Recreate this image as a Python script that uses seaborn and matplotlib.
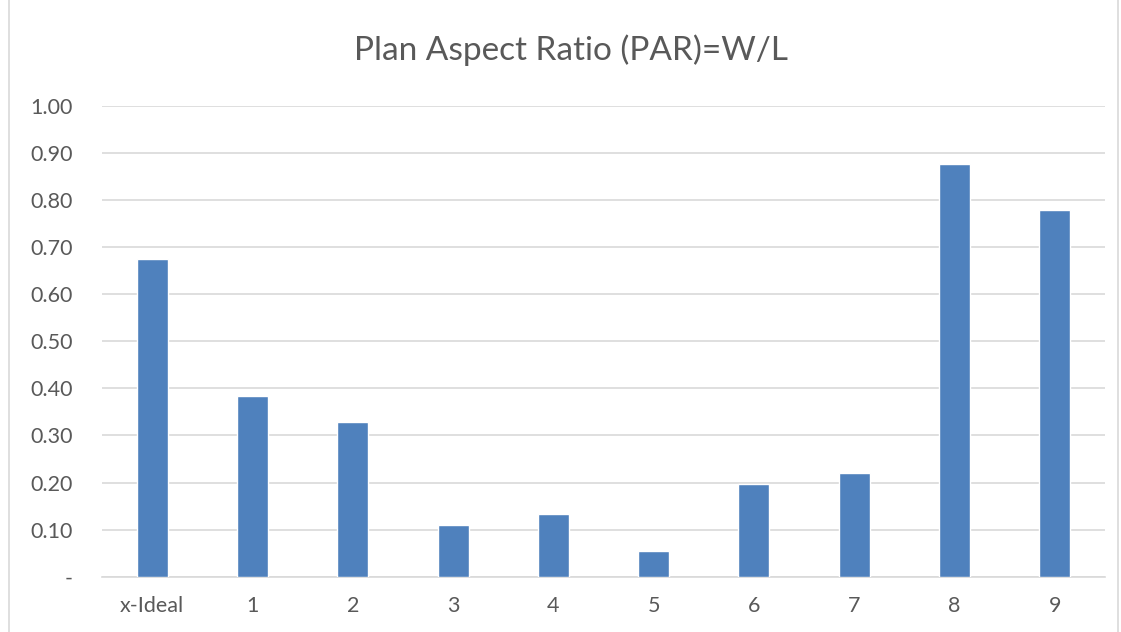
import matplotlib
matplotlib.use("Agg")
import matplotlib.pyplot as plt
import seaborn as sns
import pandas as pd
from matplotlib.patches import Rectangle
from matplotlib.ticker import FixedLocator, FuncFormatter

# Plan aspect ratio per building
categories = ["x-Ideal", "1", "2", "3", "4", "5", "6", "7", "8", "9"]
par_values = [0.675, 0.384, 0.329, 0.109, 0.133, 0.054, 0.197, 0.220, 0.876, 0.779]
y_ticks = [0.0, 0.1, 0.2, 0.3, 0.4, 0.5, 0.6, 0.7, 0.8, 0.9, 1.0]

df = pd.DataFrame({"building": categories, "par": par_values})

sns.set_theme(style="white")
plt.rcParams["font.family"] = ["Lato", "DejaVu Sans"]

text_color = "#595959"
grid_color = "#d9d9d9"

fig = plt.figure(figsize=(11.21, 6.32), dpi=100)
ax = fig.add_axes([0.091, 0.0875, 0.8947, 0.7448])

sns.barplot(data=df, x="building", y="par", color="#4f81bd", saturation=1,
            width=0.31, ax=ax, zorder=3)

ax.set_ylim(0, 1.0)
ax.set_xlim(-0.5, len(categories) - 0.5)
ax.yaxis.set_major_locator(FixedLocator(y_ticks))
ax.yaxis.set_major_formatter(FuncFormatter(lambda v, p: "-" if abs(v) < 1e-9 else f"{v:.2f}"))
ax.grid(axis="y", color=grid_color, linewidth=1.2, zorder=0)
ax.set_axisbelow(True)

for side in ["top", "right", "left"]:
    ax.spines[side].set_visible(False)
ax.spines["bottom"].set_color(grid_color)
ax.spines["bottom"].set_linewidth(1.2)

ax.tick_params(axis="both", length=0, labelsize=15.5, colors=text_color)
ax.tick_params(axis="y", pad=21)
ax.tick_params(axis="x", pad=14)
for lbl in ax.get_yticklabels():
    lbl.set_horizontalalignment("right")
ax.set_xlabel("")
ax.set_ylabel("")

fig.text(0.509, 0.921, "Plan Aspect Ratio (PAR)=W/L", ha="center", va="center",
         fontsize=24, color=text_color)

# Chart frame
fig.patches.append(Rectangle((0.008, -0.01), 0.989, 1.02, transform=fig.transFigure,
                             fill=False, edgecolor=grid_color, linewidth=1.2))

fig.savefig("out.png", dpi=100)
